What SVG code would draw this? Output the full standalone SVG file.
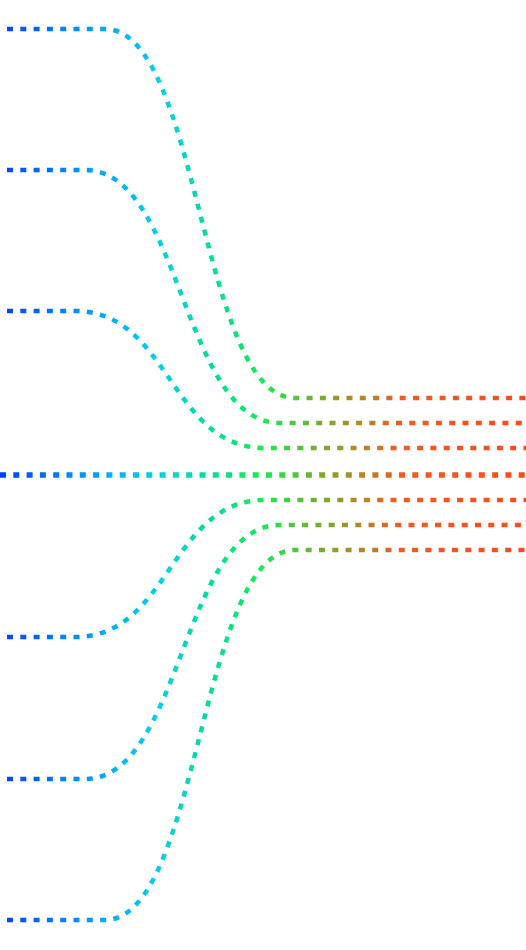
<svg xmlns="http://www.w3.org/2000/svg" width="526" height="950" viewBox="0 0 526 950">
<defs>
<linearGradient id="g" gradientUnits="userSpaceOnUse" x1="0" y1="0" x2="526" y2="0">
<stop offset="0" stop-color="#0040ff"/>
<stop offset="0.2" stop-color="#00aaff"/>
<stop offset="0.3" stop-color="#00d0e8"/>
<stop offset="0.4" stop-color="#00dc9a"/>
<stop offset="0.5" stop-color="#18ec50"/>
<stop offset="0.6" stop-color="#70b030"/>
<stop offset="0.68" stop-color="#b08a22"/>
<stop offset="0.76" stop-color="#f05a20"/>
<stop offset="1" stop-color="#ff4a18"/>
</linearGradient>
<style>
.l{fill:none;stroke:url(#g);stroke-width:4.5;stroke-dasharray:6 7.3}
.m{stroke-width:5.5}
</style>
</defs>
<g id="connectors">
<path id="c1" class="l" d="M7,29 H105 C200,29 200,398 295,398 H526"/>
<path id="c2" class="l" d="M7,170 H85 C182,170 182,423 280,423 H526"/>
<path id="c3" class="l" d="M7,311 H75 C170,311 170,448 265,448 H526"/>
<path id="c4" class="l m" d="M0,475 H526"/>
<path id="c5" class="l" d="M7,637 H75 C170,637 170,500 265,500 H526"/>
<path id="c6" class="l" d="M7,779 H85 C182,779 182,525 280,525 H526"/>
<path id="c7" class="l" d="M7,920 H105 C200,920 200,550 295,550 H526"/>
</g>
</svg>
